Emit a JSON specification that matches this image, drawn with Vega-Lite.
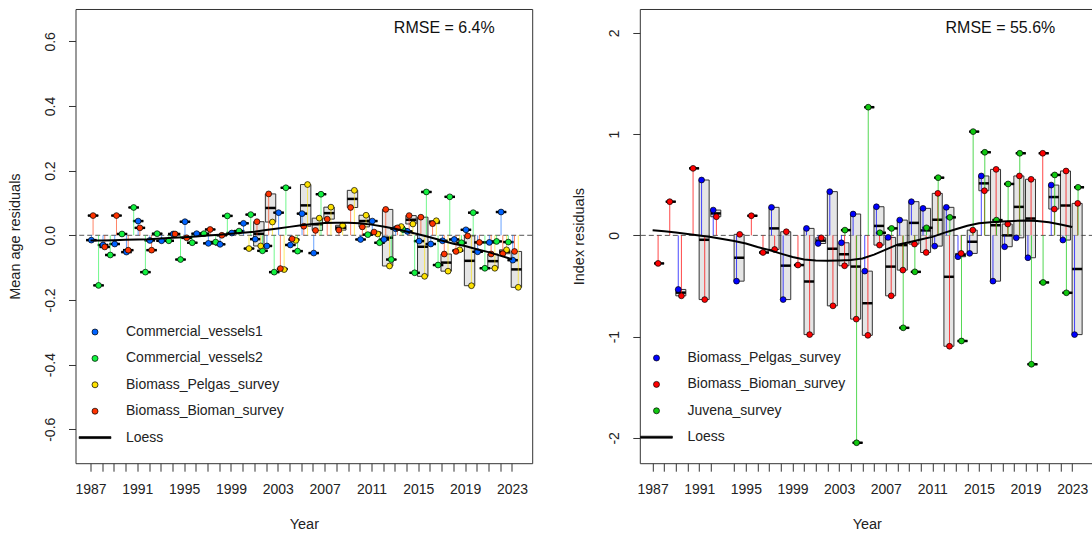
{
  "$schema": "https://vega.github.io/schema/vega-lite/v6.json",
  "padding": {"left": 6.5, "top": 8, "right": 0, "bottom": 0},
  "config": {
    "font": "Liberation Sans",
    "view": {"stroke": "#333", "strokeWidth": 1},
    "axis": {
      "grid": false, "domain": false, "tickColor": "#333", "tickWidth": 1,
      "labelFont": "Liberation Sans", "labelFontSize": 14, "labelColor": "#222",
      "titleFont": "Liberation Sans", "titleFontSize": 14.5, "titleFontWeight": "normal", "titleColor": "#222",
      "labelOverlap": false, "labelFlush": false, "labelBound": false
    },
    "legend": {"labelFont": "Liberation Sans"},
    "locale": {"number": {"decimal": ".", "thousands": ",", "grouping": [3], "currency": ["", ""], "minus": "-"}}
  },
  "datasets": {
    "meanAge": [
      {"yr": 1987, "Commercial_vessels1": -0.015, "Commercial_vessels2": -0.155, "Biomass_Bioman_survey": 0.061},
      {"yr": 1988, "Commercial_vessels1": -0.03, "Commercial_vessels2": -0.061, "Biomass_Bioman_survey": -0.036},
      {"yr": 1989, "Commercial_vessels1": -0.027, "Commercial_vessels2": 0.004, "Biomass_Bioman_survey": 0.061},
      {"yr": 1990, "Commercial_vessels1": -0.052, "Commercial_vessels2": 0.086, "Biomass_Bioman_survey": -0.046},
      {"yr": 1991, "Commercial_vessels1": 0.044, "Commercial_vessels2": -0.114, "Biomass_Bioman_survey": 0.023},
      {"yr": 1992, "Commercial_vessels1": -0.016, "Commercial_vessels2": 0.005, "Biomass_Bioman_survey": -0.046},
      {"yr": 1993, "Commercial_vessels1": -0.017, "Commercial_vessels2": -0.017},
      {"yr": 1994, "Commercial_vessels1": 0.004, "Commercial_vessels2": -0.075, "Biomass_Bioman_survey": 0.004},
      {"yr": 1995, "Commercial_vessels1": 0.042, "Commercial_vessels2": -0.023, "Biomass_Bioman_survey": -0.008},
      {"yr": 1996, "Commercial_vessels1": 0.005, "Commercial_vessels2": 0.005},
      {"yr": 1997, "Commercial_vessels1": -0.025, "Commercial_vessels2": -0.021, "Biomass_Bioman_survey": 0.018},
      {"yr": 1998, "Commercial_vessels1": -0.028, "Commercial_vessels2": 0.06, "Biomass_Bioman_survey": 0.0},
      {"yr": 1999, "Commercial_vessels1": 0.007, "Commercial_vessels2": 0.013},
      {"yr": 2000, "Commercial_vessels1": 0.037, "Commercial_vessels2": 0.064, "Biomass_Pelgas_survey": -0.041},
      {"yr": 2001, "Commercial_vessels1": -0.012, "Commercial_vessels2": -0.048, "Biomass_Pelgas_survey": -0.033, "Biomass_Bioman_survey": 0.042},
      {"yr": 2002, "Commercial_vessels1": -0.033, "Commercial_vessels2": -0.114, "Biomass_Pelgas_survey": 0.041, "Biomass_Bioman_survey": 0.128},
      {"yr": 2003, "Commercial_vessels1": 0.07, "Commercial_vessels2": 0.147, "Biomass_Pelgas_survey": -0.106, "Biomass_Bioman_survey": -0.103},
      {"yr": 2004, "Commercial_vessels1": -0.03, "Commercial_vessels2": -0.049, "Biomass_Pelgas_survey": -0.016, "Biomass_Bioman_survey": -0.011},
      {"yr": 2005, "Commercial_vessels1": 0.067, "Biomass_Pelgas_survey": 0.157, "Biomass_Bioman_survey": 0.028},
      {"yr": 2006, "Commercial_vessels1": -0.055, "Commercial_vessels2": 0.127, "Biomass_Pelgas_survey": 0.053, "Biomass_Bioman_survey": 0.015},
      {"yr": 2007, "Biomass_Pelgas_survey": 0.087, "Biomass_Bioman_survey": 0.05},
      {"yr": 2008, "Biomass_Pelgas_survey": 0.031, "Biomass_Bioman_survey": 0.016},
      {"yr": 2009, "Biomass_Pelgas_survey": 0.139, "Biomass_Bioman_survey": 0.086},
      {"yr": 2010, "Commercial_vessels1": -0.013, "Commercial_vessels2": 0.002, "Biomass_Pelgas_survey": 0.062, "Biomass_Bioman_survey": 0.026},
      {"yr": 2011, "Commercial_vessels1": 0.044, "Commercial_vessels2": -0.023, "Biomass_Pelgas_survey": 0.004, "Biomass_Bioman_survey": 0.01},
      {"yr": 2012, "Commercial_vessels1": -0.013, "Commercial_vessels2": -0.075, "Biomass_Pelgas_survey": -0.095, "Biomass_Bioman_survey": 0.08},
      {"yr": 2013, "Commercial_vessels1": 0.02, "Commercial_vessels2": 0.018, "Biomass_Pelgas_survey": 0.027, "Biomass_Bioman_survey": 0.023},
      {"yr": 2014, "Commercial_vessels1": 0.012, "Commercial_vessels2": -0.116, "Biomass_Pelgas_survey": 0.035, "Biomass_Bioman_survey": 0.061},
      {"yr": 2015, "Commercial_vessels1": -0.018, "Commercial_vessels2": 0.134, "Biomass_Pelgas_survey": -0.127, "Biomass_Bioman_survey": 0.056},
      {"yr": 2016, "Commercial_vessels1": -0.027, "Commercial_vessels2": -0.092, "Biomass_Pelgas_survey": 0.045, "Biomass_Bioman_survey": 0.036},
      {"yr": 2017, "Commercial_vessels1": -0.017, "Commercial_vessels2": 0.119, "Biomass_Pelgas_survey": -0.111, "Biomass_Bioman_survey": -0.058},
      {"yr": 2018, "Commercial_vessels1": -0.013, "Commercial_vessels2": -0.023, "Biomass_Pelgas_survey": -0.045, "Biomass_Bioman_survey": -0.05},
      {"yr": 2019, "Commercial_vessels1": 0.017, "Commercial_vessels2": 0.07, "Biomass_Pelgas_survey": -0.156, "Biomass_Bioman_survey": -0.002},
      {"yr": 2020, "Commercial_vessels1": -0.051, "Commercial_vessels2": -0.102, "Biomass_Bioman_survey": -0.022},
      {"yr": 2021, "Commercial_vessels1": -0.022, "Commercial_vessels2": -0.019, "Biomass_Pelgas_survey": -0.102, "Biomass_Bioman_survey": -0.058},
      {"yr": 2022, "Commercial_vessels1": 0.072, "Commercial_vessels2": -0.021, "Biomass_Pelgas_survey": -0.045, "Biomass_Bioman_survey": -0.057},
      {"yr": 2023, "Commercial_vessels1": -0.077, "Biomass_Pelgas_survey": -0.161, "Biomass_Bioman_survey": -0.05}
    ],
    "loessAge": [
      {"yr": 1987, "fit": -0.016}, {"yr": 1988, "fit": -0.016}, {"yr": 1989, "fit": -0.015}, {"yr": 1990, "fit": -0.014},
      {"yr": 1991, "fit": -0.013}, {"yr": 1992, "fit": -0.012}, {"yr": 1993, "fit": -0.01}, {"yr": 1994, "fit": -0.008},
      {"yr": 1995, "fit": -0.006}, {"yr": 1996, "fit": -0.004}, {"yr": 1997, "fit": -0.001}, {"yr": 1998, "fit": 0.002},
      {"yr": 1999, "fit": 0.005}, {"yr": 2000, "fit": 0.008}, {"yr": 2001, "fit": 0.011}, {"yr": 2002, "fit": 0.016},
      {"yr": 2003, "fit": 0.021}, {"yr": 2004, "fit": 0.026}, {"yr": 2005, "fit": 0.031}, {"yr": 2006, "fit": 0.035},
      {"yr": 2007, "fit": 0.038}, {"yr": 2008, "fit": 0.039}, {"yr": 2009, "fit": 0.039}, {"yr": 2010, "fit": 0.037},
      {"yr": 2011, "fit": 0.033}, {"yr": 2012, "fit": 0.027}, {"yr": 2013, "fit": 0.02}, {"yr": 2014, "fit": 0.012},
      {"yr": 2015, "fit": 0.003}, {"yr": 2016, "fit": -0.006}, {"yr": 2017, "fit": -0.016}, {"yr": 2018, "fit": -0.026},
      {"yr": 2019, "fit": -0.033}, {"yr": 2020, "fit": -0.043}, {"yr": 2021, "fit": -0.052}, {"yr": 2022, "fit": -0.063},
      {"yr": 2023, "fit": -0.074}
    ],
    "indexRes": [
      {"yr": 1987, "Biomass_Bioman_survey": -0.277},
      {"yr": 1988, "Biomass_Bioman_survey": 0.333},
      {"yr": 1989, "Biomass_Pelgas_survey": -0.534, "Biomass_Bioman_survey": -0.597},
      {"yr": 1990, "Biomass_Bioman_survey": 0.662},
      {"yr": 1991, "Biomass_Pelgas_survey": 0.547, "Biomass_Bioman_survey": -0.634},
      {"yr": 1992, "Biomass_Pelgas_survey": 0.25, "Biomass_Bioman_survey": 0.184},
      {"yr": 1994, "Biomass_Pelgas_survey": -0.452, "Biomass_Bioman_survey": 0.01},
      {"yr": 1995, "Biomass_Bioman_survey": 0.194},
      {"yr": 1996, "Biomass_Bioman_survey": -0.169},
      {"yr": 1997, "Biomass_Pelgas_survey": 0.277, "Biomass_Bioman_survey": -0.139},
      {"yr": 1998, "Biomass_Pelgas_survey": -0.634, "Biomass_Bioman_survey": 0.036},
      {"yr": 1999, "Biomass_Bioman_survey": -0.293},
      {"yr": 2000, "Biomass_Pelgas_survey": 0.069, "Biomass_Bioman_survey": -0.98},
      {"yr": 2001, "Biomass_Pelgas_survey": -0.08, "Biomass_Bioman_survey": -0.024},
      {"yr": 2002, "Biomass_Pelgas_survey": 0.432, "Biomass_Bioman_survey": -0.696},
      {"yr": 2003, "Biomass_Pelgas_survey": -0.073, "Biomass_Bioman_survey": -0.3, "Juvena_survey": 0.052},
      {"yr": 2004, "Biomass_Pelgas_survey": 0.211, "Biomass_Bioman_survey": -0.827, "Juvena_survey": -2.048},
      {"yr": 2005, "Biomass_Pelgas_survey": -0.353, "Biomass_Bioman_survey": -0.987, "Juvena_survey": 1.266},
      {"yr": 2006, "Biomass_Pelgas_survey": 0.283, "Biomass_Bioman_survey": -0.096, "Juvena_survey": 0.026},
      {"yr": 2007, "Biomass_Pelgas_survey": -0.02, "Biomass_Bioman_survey": -0.597, "Juvena_survey": 0.069},
      {"yr": 2008, "Biomass_Pelgas_survey": 0.151, "Biomass_Bioman_survey": -0.343, "Juvena_survey": -0.913},
      {"yr": 2009, "Biomass_Pelgas_survey": 0.333, "Biomass_Bioman_survey": -0.086, "Juvena_survey": -0.36},
      {"yr": 2010, "Biomass_Pelgas_survey": 0.267, "Biomass_Bioman_survey": -0.169, "Juvena_survey": 0.075},
      {"yr": 2011, "Biomass_Pelgas_survey": -0.106, "Biomass_Bioman_survey": 0.415, "Juvena_survey": 0.57},
      {"yr": 2012, "Biomass_Pelgas_survey": 0.277, "Biomass_Bioman_survey": -1.095, "Juvena_survey": 0.178},
      {"yr": 2013, "Biomass_Pelgas_survey": -0.211, "Biomass_Bioman_survey": -0.178, "Juvena_survey": -1.043},
      {"yr": 2014, "Biomass_Pelgas_survey": -0.178, "Biomass_Bioman_survey": 0.052, "Juvena_survey": 1.025},
      {"yr": 2015, "Biomass_Pelgas_survey": 0.587, "Biomass_Bioman_survey": 0.441, "Juvena_survey": 0.821},
      {"yr": 2016, "Biomass_Pelgas_survey": -0.452, "Biomass_Bioman_survey": 0.652, "Juvena_survey": 0.151},
      {"yr": 2017, "Biomass_Pelgas_survey": -0.112, "Biomass_Bioman_survey": 0.112, "Juvena_survey": 0.508},
      {"yr": 2018, "Biomass_Pelgas_survey": -0.024, "Biomass_Bioman_survey": 0.587, "Juvena_survey": 0.811},
      {"yr": 2019, "Biomass_Pelgas_survey": -0.221, "Biomass_Bioman_survey": 0.554, "Juvena_survey": -1.273},
      {"yr": 2020, "Biomass_Bioman_survey": 0.811, "Juvena_survey": -0.465},
      {"yr": 2021, "Biomass_Pelgas_survey": 0.497, "Biomass_Bioman_survey": 0.26, "Juvena_survey": 0.597},
      {"yr": 2022, "Biomass_Pelgas_survey": -0.046, "Biomass_Bioman_survey": 0.636, "Juvena_survey": -0.567},
      {"yr": 2023, "Biomass_Pelgas_survey": -0.98, "Biomass_Bioman_survey": 0.316, "Juvena_survey": 0.475}
    ],
    "loessIndex": [
      {"yr": 1987, "fit": 0.05}, {"yr": 1988, "fit": 0.04}, {"yr": 1989, "fit": 0.028}, {"yr": 1990, "fit": 0.014},
      {"yr": 1991, "fit": 0.0}, {"yr": 1992, "fit": -0.016}, {"yr": 1994, "fit": -0.055}, {"yr": 1995, "fit": -0.08},
      {"yr": 1996, "fit": -0.115}, {"yr": 1997, "fit": -0.145}, {"yr": 1998, "fit": -0.18}, {"yr": 1999, "fit": -0.213},
      {"yr": 2000, "fit": -0.238}, {"yr": 2001, "fit": -0.248}, {"yr": 2002, "fit": -0.251}, {"yr": 2003, "fit": -0.248},
      {"yr": 2004, "fit": -0.243}, {"yr": 2005, "fit": -0.228}, {"yr": 2006, "fit": -0.19}, {"yr": 2007, "fit": -0.14},
      {"yr": 2008, "fit": -0.092}, {"yr": 2009, "fit": -0.068}, {"yr": 2010, "fit": -0.04}, {"yr": 2011, "fit": -0.015},
      {"yr": 2012, "fit": 0.025}, {"yr": 2013, "fit": 0.06}, {"yr": 2014, "fit": 0.095}, {"yr": 2015, "fit": 0.12},
      {"yr": 2016, "fit": 0.13}, {"yr": 2017, "fit": 0.137}, {"yr": 2018, "fit": 0.143}, {"yr": 2019, "fit": 0.146},
      {"yr": 2020, "fit": 0.143}, {"yr": 2021, "fit": 0.13}, {"yr": 2022, "fit": 0.108}, {"yr": 2023, "fit": 0.082}
    ]
  },
  "spacing": 107.3,
  "bounds": "flush",
  "resolve": {
    "scale": {"x": "independent", "y": "independent", "color": "independent", "shape": "independent", "stroke": "independent"},
    "axis": {"x": "independent", "y": "independent"},
    "legend": {"color": "independent", "shape": "independent"}
  },
  "hconcat": [
    {
      "width": 456.7,
      "height": 454.2,
      "title": {"text": "RMSE = 6.4%", "anchor": "end", "frame": "group", "orient": "top", "offset": -40, "dx": -37.5, "baseline": "alphabetic", "fontSize": 16, "fontWeight": "normal", "color": "#111"},
      "layer": [
        {
          "data": {"values": [{}]},
          "mark": {"type": "rule", "color": "#555", "strokeDash": [5, 3], "strokeWidth": 1},
          "encoding": {"y": {"datum": 0, "type": "quantitative", "title": "Mean age residuals"}}
        },
        {
          "data": {"name": "meanAge"},
          "transform": [
            {"fold": ["Commercial_vessels1", "Commercial_vessels2", "Biomass_Pelgas_survey", "Biomass_Bioman_survey"], "as": ["fleet", "resid"]},
            {"filter": "isValid(datum.resid)"},
            {"calculate": "datum.yr + (datum.fleet === 'Commercial_vessels1' ? 0.07 : datum.fleet === 'Biomass_Bioman_survey' ? 0.22 : datum.fleet === 'Biomass_Pelgas_survey' ? 0.54 : 0.69)", "as": "t"},
            {"calculate": "datum.fleet === 'Biomass_Pelgas_survey' || datum.fleet === 'Biomass_Bioman_survey' ? datum.yr + ' surveys' : datum.yr + ' ' + datum.fleet", "as": "grp"}
          ],
          "layer": [
            {
              "transform": [{"aggregate": [{"op": "min", "field": "resid", "as": "lo"}, {"op": "max", "field": "resid", "as": "hi"}, {"op": "mean", "field": "t", "as": "tc"}], "groupby": ["grp"]}],
              "mark": {"type": "rect", "fill": "#d0d0d0", "fillOpacity": 0.55, "stroke": "#333", "strokeWidth": 1, "xOffset": -5.2, "x2Offset": 5.2},
              "encoding": {
                "x": {"field": "tc", "type": "quantitative", "title": "Year",
                  "scale": {"domain": [1985.72, 2024.73], "nice": false, "zero": false},
                  "axis": {"values": [1987,1988,1989,1990,1991,1992,1993,1994,1995,1996,1997,1998,1999,2000,2001,2002,2003,2004,2005,2006,2007,2008,2009,2010,2011,2012,2013,2014,2015,2016,2017,2018,2019,2020,2021,2022,2023],
                    "tickCount": 80, "format": "d", "labelExpr": "(datum.value - 1987) % 4 === 0 ? datum.label : ''",
                    "tickSize": 8, "labelPadding": 11, "titlePadding": 21}},
                "x2": {"field": "tc"},
                "y": {"field": "lo", "type": "quantitative", "title": "Mean age residuals",
                  "scale": {"domain": [-0.705, 0.7], "nice": false, "zero": false},
                  "axis": {"values": [-0.6, -0.4, -0.2, 0, 0.2, 0.4, 0.6], "format": ".1f", "labelAngle": 270, "labelAlign": "center", "labelBaseline": "bottom", "tickSize": 7, "labelPadding": 11, "titlePadding": 21}},
                "y2": {"field": "hi"}
              }
            },
            {
              "transform": [{"aggregate": [{"op": "median", "field": "resid", "as": "mid"}, {"op": "mean", "field": "t", "as": "tc"}], "groupby": ["grp"]}],
              "mark": {"type": "rule", "color": "black", "strokeWidth": 2.5, "strokeCap": "butt", "xOffset": -5.2, "x2Offset": 5.2},
              "encoding": {
                "x": {"field": "tc", "type": "quantitative", "title": "Year"},
                "x2": {"field": "tc"},
                "y": {"field": "mid", "type": "quantitative", "title": "Mean age residuals"}
              }
            },
            {
              "mark": {"type": "rule", "strokeWidth": 1, "strokeOpacity": 0.6},
              "encoding": {
                "x": {"field": "t", "type": "quantitative", "title": "Year"},
                "y": {"field": "resid", "type": "quantitative", "title": "Mean age residuals"},
                "y2": {"datum": 0},
                "stroke": {"field": "fleet", "type": "nominal", "legend": null,
                  "scale": {"domain": ["Commercial_vessels1", "Commercial_vessels2", "Biomass_Pelgas_survey", "Biomass_Bioman_survey"], "range": ["#0063FF", "#13F240", "#FEE201", "#FF3300"]}}
              }
            },
            {
              "mark": {"type": "point", "filled": true, "size": 34, "opacity": 1, "stroke": "black", "strokeWidth": 0.7},
              "encoding": {
                "x": {"field": "t", "type": "quantitative", "title": "Year"},
                "y": {"field": "resid", "type": "quantitative", "title": "Mean age residuals"},
                "color": {"field": "fleet", "type": "nominal",
                  "scale": {"domain": ["Commercial_vessels1", "Commercial_vessels2", "Biomass_Pelgas_survey", "Biomass_Bioman_survey", "Loess"], "range": ["#0063FF", "#13F240", "#FEE201", "#FF3300", "#000000"]},
                  "legend": {"title": null, "orient": "none", "legendX": 12.5, "legendY": 316, "symbolSize": 36, "symbolStrokeColor": "black", "symbolStrokeWidth": 0.7, "symbolOpacity": 1, "labelFontSize": 14, "labelColor": "#222", "labelOffset": 24, "rowPadding": 12.4, "labelLimit": 300,
                    "encode": {"symbols": {"update": {"stroke": {"value": "black"}, "strokeWidth": {"value": 0.7}}}}}},
                "shape": {"field": "fleet", "type": "nominal",
                  "scale": {"domain": ["Commercial_vessels1", "Commercial_vessels2", "Biomass_Pelgas_survey", "Biomass_Bioman_survey", "Loess"], "range": ["circle", "circle", "circle", "circle", "M-5.3,-0.33H5.3V0.33H-5.3Z"]},
                  "legend": {"title": null, "orient": "none", "legendX": 12.5, "legendY": 316, "symbolSize": 36, "symbolStrokeColor": "black", "symbolStrokeWidth": 0.7, "symbolOpacity": 1, "labelFontSize": 14, "labelColor": "#222", "labelOffset": 24, "rowPadding": 12.4, "labelLimit": 300,
                    "encode": {"symbols": {"update": {"stroke": {"value": "black"}, "strokeWidth": {"value": 0.7}}}}}}
              }
            }
          ]
        },
        {
          "data": {"name": "loessAge"},
          "mark": {"type": "line", "color": "black", "strokeWidth": 2},
          "encoding": {
            "x": {"field": "yr", "type": "quantitative", "title": "Year"},
            "y": {"field": "fit", "type": "quantitative", "title": "Mean age residuals"}
          }
        }
      ]
    },
    {
      "width": 454,
      "height": 454.2,
      "title": {"text": "RMSE = 55.6%", "anchor": "end", "frame": "group", "orient": "top", "offset": -40, "dx": -38.5, "baseline": "alphabetic", "fontSize": 16, "fontWeight": "normal", "color": "#111"},
      "layer": [
        {
          "data": {"values": [{}]},
          "mark": {"type": "rule", "color": "#555", "strokeDash": [5, 3], "strokeWidth": 1},
          "encoding": {"y": {"datum": 0, "type": "quantitative", "title": "Index residuals"}}
        },
        {
          "data": {"name": "indexRes"},
          "transform": [
            {"fold": ["Biomass_Pelgas_survey", "Biomass_Bioman_survey", "Juvena_survey"], "as": ["fleet", "resid"]},
            {"filter": "isValid(datum.resid)"},
            {"calculate": "datum.yr + (datum.fleet === 'Biomass_Pelgas_survey' ? 0.2 : datum.fleet === 'Biomass_Bioman_survey' ? 0.47 : 0.5)", "as": "t"},
            {"calculate": "datum.fleet === 'Juvena_survey' ? datum.yr + ' juvena' : datum.yr + ' spring'", "as": "grp"}
          ],
          "layer": [
            {
              "transform": [{"aggregate": [{"op": "min", "field": "resid", "as": "lo"}, {"op": "max", "field": "resid", "as": "hi"}, {"op": "mean", "field": "t", "as": "tc"}], "groupby": ["grp"]}],
              "mark": {"type": "rect", "fill": "#d0d0d0", "fillOpacity": 0.55, "stroke": "#333", "strokeWidth": 1, "xOffset": -4, "x2Offset": 6},
              "encoding": {
                "x": {"field": "tc", "type": "quantitative", "title": "Year",
                  "scale": {"domain": [1985.9, 2024.85], "nice": false, "zero": false},
                  "axis": {"values": [1987,1988,1989,1990,1991,1992,1994,1995,1996,1997,1998,1999,2000,2001,2002,2003,2004,2005,2006,2007,2008,2009,2010,2011,2012,2013,2014,2015,2016,2017,2018,2019,2020,2021,2022,2023],
                    "tickCount": 80, "format": "d", "labelExpr": "(datum.value - 1987) % 4 === 0 ? datum.label : ''",
                    "tickSize": 8, "labelPadding": 11, "titlePadding": 21}},
                "x2": {"field": "tc"},
                "y": {"field": "lo", "type": "quantitative", "title": "Index residuals",
                  "scale": {"domain": [-2.25, 2.236], "nice": false, "zero": false},
                  "axis": {"values": [-2, -1, 0, 1, 2], "format": "d", "labelAngle": 270, "labelAlign": "center", "labelBaseline": "bottom", "tickSize": 7, "labelPadding": 11, "titlePadding": 21}},
                "y2": {"field": "hi"}
              }
            },
            {
              "transform": [{"aggregate": [{"op": "median", "field": "resid", "as": "mid"}, {"op": "mean", "field": "t", "as": "tc"}], "groupby": ["grp"]}],
              "mark": {"type": "rule", "color": "black", "strokeWidth": 2.5, "strokeCap": "butt", "xOffset": -4, "x2Offset": 6},
              "encoding": {
                "x": {"field": "tc", "type": "quantitative", "title": "Year"},
                "x2": {"field": "tc"},
                "y": {"field": "mid", "type": "quantitative", "title": "Index residuals"}
              }
            },
            {
              "mark": {"type": "rule", "strokeWidth": 1, "strokeOpacity": 0.72},
              "encoding": {
                "x": {"field": "t", "type": "quantitative", "title": "Year"},
                "y": {"field": "resid", "type": "quantitative", "title": "Index residuals"},
                "y2": {"datum": 0},
                "stroke": {"field": "fleet", "type": "nominal", "legend": null,
                  "scale": {"domain": ["Biomass_Pelgas_survey", "Biomass_Bioman_survey", "Juvena_survey"], "range": ["#0000FF", "#FF0000", "#10C810"]}}
              }
            },
            {
              "mark": {"type": "point", "filled": true, "size": 34, "opacity": 1, "stroke": "black", "strokeWidth": 0.7},
              "encoding": {
                "x": {"field": "t", "type": "quantitative", "title": "Year"},
                "y": {"field": "resid", "type": "quantitative", "title": "Index residuals"},
                "color": {"field": "fleet", "type": "nominal",
                  "scale": {"domain": ["Biomass_Pelgas_survey", "Biomass_Bioman_survey", "Juvena_survey", "Loess"], "range": ["#0000FF", "#FF0000", "#10C810", "#000000"]},
                  "legend": {"title": null, "orient": "none", "legendX": 9.7, "legendY": 342, "symbolSize": 36, "symbolStrokeColor": "black", "symbolStrokeWidth": 0.7, "symbolOpacity": 1, "labelFontSize": 14, "labelColor": "#222", "labelOffset": 24, "rowPadding": 12.4, "labelLimit": 300,
                    "encode": {"symbols": {"update": {"stroke": {"value": "black"}, "strokeWidth": {"value": 0.7}}}}}},
                "shape": {"field": "fleet", "type": "nominal",
                  "scale": {"domain": ["Biomass_Pelgas_survey", "Biomass_Bioman_survey", "Juvena_survey", "Loess"], "range": ["circle", "circle", "circle", "M-5.3,-0.33H5.3V0.33H-5.3Z"]},
                  "legend": {"title": null, "orient": "none", "legendX": 9.7, "legendY": 342, "symbolSize": 36, "symbolStrokeColor": "black", "symbolStrokeWidth": 0.7, "symbolOpacity": 1, "labelFontSize": 14, "labelColor": "#222", "labelOffset": 24, "rowPadding": 12.4, "labelLimit": 300,
                    "encode": {"symbols": {"update": {"stroke": {"value": "black"}, "strokeWidth": {"value": 0.7}}}}}}
              }
            }
          ]
        },
        {
          "data": {"name": "loessIndex"},
          "mark": {"type": "line", "color": "black", "strokeWidth": 2},
          "encoding": {
            "x": {"field": "yr", "type": "quantitative", "title": "Year"},
            "y": {"field": "fit", "type": "quantitative", "title": "Index residuals"}
          }
        }
      ]
    }
  ]
}
